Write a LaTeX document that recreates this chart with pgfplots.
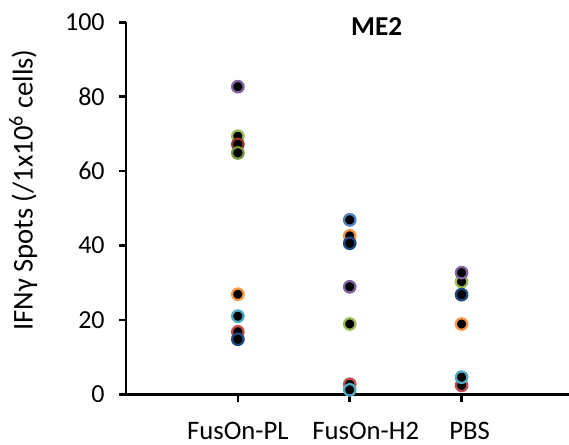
\documentclass[border=0pt]{standalone}
\usepackage{pgfplots}
\pgfplotsset{compat=1.18}
\usepackage{fontspec}
\setmainfont{Carlito}
\definecolor{cpurple}{HTML}{8064A2}
\definecolor{clgreen}{HTML}{9BBB59}
\definecolor{cmaroon}{HTML}{943634}
\definecolor{cred}{HTML}{C0504D}
\definecolor{colive}{HTML}{77933C}
\definecolor{corange}{HTML}{F79646}
\definecolor{ccyan}{HTML}{4BACC6}
\definecolor{cblue}{HTML}{4F81BD}
\definecolor{cdblue}{HTML}{1F497D}
\begin{document}
\begin{tikzpicture}
\begin{axis}[
  scale only axis,
  width=332.25pt, height=279pt,
  xmin=0, xmax=3.96, ymin=0, ymax=100,
  axis x line=bottom, axis y line=left,
  axis line style={line width=2.2pt, -},
  xtick={1,2,3},
  xticklabels={FusOn-PL,\hspace*{24pt}FusOn-H2,\hspace*{12pt}PBS},
  ytick={0,20,40,60,80,100},
  tick align=outside,
  major tick length=5.5pt,
  tick style={line width=2pt, black},
  /pgf/number format/assume math mode=true,
  yticklabel style={font=\fontsize{19.5}{21}\selectfont, xshift=-7pt},
  xticklabel style={font=\fontsize{20}{22}\selectfont, yshift=-12pt},
  ylabel={IFNγ Spots (/1x10\textsuperscript{6} cells)},
  ylabel style={font=\fontsize{21.5}{23}\selectfont, at={(axis description cs:-0.232,0.549)}, anchor=center, rotate=0},
  title={\textbf{ME2}},
  title style={font=\fontsize{20.5}{22}\selectfont, at={(axis description cs:0.551,0.966)}, anchor=center, xshift=5pt},
  clip=false,
  every axis plot/.append style={only marks, mark=*, mark size=4.3pt, mark options={fill=black, line width=1.7pt}},
]
\addplot[clgreen] coordinates {(1,69.4) (2,18.9) (3,30.3)};
\addplot[cmaroon] coordinates {(1,67.2)};
\addplot[cred] coordinates {(1,16.8) (2,2.7) (3,2.4)};
\addplot[colive] coordinates {(1,64.9)};
\addplot[corange] coordinates {(1,26.9) (2,42.6) (3,18.9)};
\addplot[ccyan] coordinates {(1,21.0) (2,1.2) (3,4.6)};
\addplot[cpurple] coordinates {(1,82.7) (2,28.9) (3,32.7)};
\addplot[cblue] coordinates {(2,46.9)};
\addplot[cdblue] coordinates {(1,14.8) (2,40.6) (3,26.8)};
\coordinate (bl) at (rel axis cs:0,0);
\end{axis}
\pgfresetboundingbox
\path[use as bounding box] (bl) ++(-94.5pt,-38pt) rectangle ++(426.75pt,333.75pt);
\end{tikzpicture}
\end{document}
